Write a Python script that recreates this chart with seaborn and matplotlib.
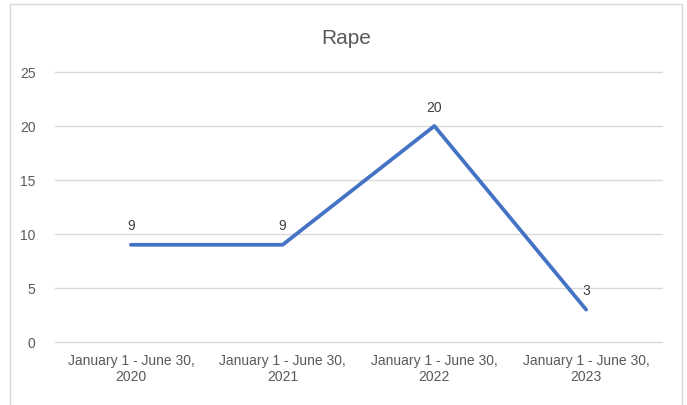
import pandas as pd
import seaborn as sns
import matplotlib.pyplot as plt
from matplotlib.patches import Rectangle

# data
periods = ['January 1 - June 30,\n2020', 'January 1 - June 30,\n2021',
           'January 1 - June 30,\n2022', 'January 1 - June 30,\n2023']
counts = [9, 9, 20, 3]
y_ticks = [0, 5, 10, 15, 20, 25]

sns.set_theme(style='white')
plt.rcParams['font.family'] = ['Liberation Sans', 'DejaVu Sans']

df = pd.DataFrame({'period': periods, 'count': counts})
df['pos'] = range(len(df))

fig = plt.figure(figsize=(6.87, 4.06), dpi=100)
ax = fig.add_axes([55 / 687, 63 / 406, 607 / 687, 270 / 406])

sns.lineplot(data=df, x='pos', y='count', ax=ax, color='#4472C4', linewidth=2.7)

for x, y in zip(df['pos'], df['count']):
    ax.annotate(str(y), (x, y), xytext=(0, 9), textcoords='offset points',
                ha='center', va='bottom', fontsize=10, color='#404040')

ax.set_xlim(-0.5, len(df) - 0.5)
ax.set_ylim(0, 25)
ax.set_yticks(y_ticks)
ax.set_xticks(df['pos'])
ax.set_xticklabels(periods)
ax.yaxis.grid(True, color='#D9D9D9', linewidth=1)
for gl in ax.get_ygridlines():
    gl.set_clip_on(False)
ax.set_axisbelow(True)
for s in ax.spines.values():
    s.set_visible(False)
ax.tick_params(axis='both', length=0, labelsize=10, colors='#595959')
ax.tick_params(axis='x', pad=8)
ax.tick_params(axis='y', pad=14)
ax.set_xlabel('')
ax.set_ylabel('')

fig.text(346 / 687, 1 - 38 / 406, 'Rape', ha='center', va='center',
         fontsize=15, color='#595959')

# outer chart border
fig.patches.append(Rectangle((10 / 687, -0.05), 672 / 687, 1.05 - 5 / 406,
                             transform=fig.transFigure, fill=False,
                             edgecolor='#D9D9D9', linewidth=1))

fig.savefig('out.png', dpi=100)
